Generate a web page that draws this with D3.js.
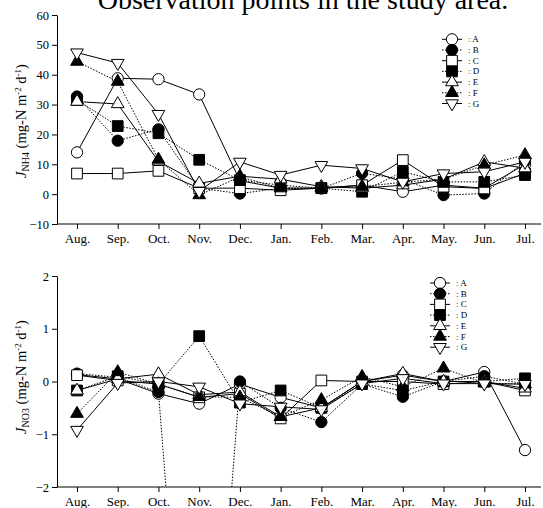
<!DOCTYPE html>
<html>
<head>
<meta charset="utf-8">
<script src="https://cdn.jsdelivr.net/npm/d3@7"></script>
<style>
  body { margin: 0; background: #fff; }
  svg, svg text { font-family: "Liberation Serif", "Times New Roman", serif; }
</style>
</head>
<body>
<div id="chart"></div>
<script>
const WIDTH = 543;
const HEIGHT = 508;

const MONTHS = ["Aug.", "Sep.", "Oct.", "Nov.", "Dec.", "Jan.", "Feb.", "Mar.", "Apr.", "May.", "Jun.", "Jul."];
const SITES = ["A", "B", "C", "D", "E", "F", "G"];

// J_NH4 (top panel)
const NH4_A = [14, 38.8, 38.5, 33.4, 4.5, 2, 2, 3, 0.8, 3, 2, 10];
const NH4_B = [32.7, 17.9, 21.7, 2, 0.2, 2, 1.9, 7, 5, -0.3, 0.2, 11];
const NH4_C = [6.9, 6.9, 7.8, 2, 2, 1.3, 2, 3, 11.4, 2.5, 1.9, 7];
const NH4_D = [31.5, 22.8, 20.4, 11.5, 4.7, 3, 2, 0.8, 7.5, 4.1, 4.1, 6.4];
const NH4_E = [31, 30.2, 11, 3.6, 6, 5, 2.5, 2, 3, 5, 10.8, 8.7];
const NH4_F = [44.4, 37.7, 11.6, -0.3, 5.8, 2, 2, 2.5, 4, 5, 9.7, 13.1];
const NH4_G = [47.4, 43.9, 26.8, 1, 10.8, 6.4, 9.7, 8.6, 4.1, 6.9, 7.5, 10.8];

// J_NO3 (bottom panel)
const NO3_A = [0.13, 0.05, -0.23, -0.42, -0.05, -0.3, -0.5, 0, 0.12, 0, 0.18, -1.3];
const NO3_B = [0.15, 0.08, -0.2, -10, 0.0, -0.5, -0.77, -0.05, -0.29, 0, 0.1, -0.05];
const NO3_C = [0.12, 0.02, -0.05, -0.3, -0.23, -0.7, 0.02, 0, 0, -0.05, 0, -0.17];
const NO3_D = [-0.17, 0.1, -0.05, 0.86, -0.4, -0.17, -0.5, -0.05, -0.17, 0, 0, 0.06];
const NO3_E = [-0.17, 0.05, 0.14, -0.25, -0.2, -0.67, -0.5, 0, 0.15, 0, 0, -0.13];
const NO3_F = [-0.61, 0.18, -0.05, -0.29, -0.3, -0.67, -0.35, 0.09, -0.1, 0.25, -0.03, -0.05];
const NO3_G = [-0.92, -0.03, 0, -0.1, -0.42, -0.48, -0.53, -0.04, 0.06, -0.04, -0.04, -0.05];

const NH4_TICKS = [-10, 0, 10, 20, 30, 40, 50, 60];
const NO3_TICKS = [-2, -1, 0, 1, 2];

const SERIF = "'Liberation Serif', 'Times New Roman', serif";

// marker style per site: symbol, fill, dashed line
const STYLE = {
  A: {sym: "circle", fill: "#fff", dash: null},
  B: {sym: "circle", fill: "#000", dash: "1.5,1.5"},
  C: {sym: "square", fill: "#fff", dash: null},
  D: {sym: "square", fill: "#000", dash: "1.5,1.5"},
  E: {sym: "up", fill: "#fff", dash: null},
  F: {sym: "up", fill: "#000", dash: "1.5,1.5"},
  G: {sym: "down", fill: "#fff", dash: null}
};

function markerPath(sym) {
  if (sym == "circle") return d3.symbol(d3.symbolCircle, 100)();
  if (sym == "square") return d3.symbol(d3.symbolSquare, 115)();
  return d3.symbol(d3.symbolTriangle, 70)();
}

const svg = d3.select("#chart").append("svg")
  .attr("width", WIDTH)
  .attr("height", HEIGHT);

const X = d3.scalePoint().domain(MONTHS).range([77, 525]);

svg.append("text")
  .attr("x", 303)
  .attr("y", 9)
  .attr("text-anchor", "middle")
  .attr("font-size", "28px")
  .style("font-family", SERIF)
  .text("Observation points in the study area.");

function drawPanel(opts) {
  const Y = d3.scaleLinear().domain(opts.domain).range(opts.range);
  const g = svg.append("g").style("font-family", SERIF);
  const clipId = "clip-" + opts.key;

  svg.append("clipPath").attr("id", clipId)
    .append("rect")
      .attr("x", 57).attr("y", opts.range[1] - 10)
      .attr("width", WIDTH - 57).attr("height", opts.range[0] - opts.range[1] + 10);

  // axes
  const yAxis = g.append("g")
    .attr("transform", "translate(57,0)")
    .call(d3.axisLeft(Y).tickValues(opts.ticks).tickFormat(d3.format("d"))
      .tickSize(5).tickSizeOuter(0).tickPadding(3));
  yAxis.attr("font-family", null).style("font-family", SERIF);
  yAxis.selectAll("text").attr("font-size", "12.5px").style("font-family", SERIF).attr("fill", "#000");
  yAxis.selectAll("line, path").attr("stroke", "#000");

  const xAxis = g.append("g")
    .attr("transform", "translate(0," + opts.range[0] + ")")
    .call(d3.axisBottom(X).tickSize(5).tickPadding(5));
  xAxis.attr("font-family", null).style("font-family", SERIF);
  xAxis.select(".domain").remove();
  xAxis.append("line").attr("x1", 57).attr("x2", 541).attr("stroke", "#000");
  xAxis.selectAll("text").attr("font-size", "13px").style("font-family", SERIF).attr("fill", "#000");
  xAxis.selectAll("line").attr("stroke", "#000");

  // y label
  const lab = g.append("text")
    .attr("transform", "translate(" + 26 + "," + opts.labelY + ") rotate(-90)")
    .attr("text-anchor", "middle")
    .attr("font-size", "14.5px")
    .style("font-family", SERIF);
  lab.append("tspan").attr("font-style", "italic").text("J");
  lab.append("tspan").attr("font-size", "10px").attr("dy", 3).text(opts.sub);
  lab.append("tspan").attr("dy", -3).text(" (mg-N m");
  lab.append("tspan").attr("font-size", "9px").attr("dy", -5).text("-2");
  lab.append("tspan").attr("dy", 5).text(" d");
  lab.append("tspan").attr("font-size", "9px").attr("dy", -5).text("-1");
  lab.append("tspan").attr("dy", 5).text(")");

  const plot = g.append("g").attr("clip-path", "url(#" + clipId + ")");
  const line = d3.line().x((d, i) => X(MONTHS[i])).y(d => Y(d));

  SITES.forEach((s, k) => {
    const st = STYLE[s];
    plot.append("path")
      .datum(opts.series[k])
      .attr("d", line)
      .attr("fill", "none")
      .attr("stroke", "#000")
      .attr("stroke-width", 1)
      .attr("stroke-dasharray", st.dash);
  });

  SITES.forEach((s, k) => {
    const st = STYLE[s];
    plot.selectAll(".m" + s)
      .data(opts.series[k])
      .enter()
      .append("path")
        .attr("d", markerPath(st.sym))
        .attr("transform", (d, i) => "translate(" + X(MONTHS[i]) + "," + Y(d) + ")" + (st.sym == "down" ? " rotate(180)" : ""))
        .attr("fill", st.fill)
        .attr("stroke", "#000")
        .attr("stroke-width", 1);
  });

  // legend
  SITES.forEach((s, k) => {
    const st = STYLE[s];
    const ly = opts.legY + k * 10.7;
    g.append("line")
      .attr("x1", opts.legX - 10).attr("x2", opts.legX + 10)
      .attr("y1", ly).attr("y2", ly)
      .attr("stroke", "#000")
      .attr("stroke-dasharray", st.dash);
    g.append("path")
      .attr("d", markerPath(st.sym))
      .attr("transform", "translate(" + opts.legX + "," + ly + ")" + (st.sym == "down" ? " rotate(180)" : ""))
      .attr("fill", st.fill)
      .attr("stroke", "#000");
    g.append("text")
      .attr("x", opts.legX + 16)
      .attr("y", ly + 3)
      .attr("font-size", "9px")
      .style("font-family", SERIF)
      .text(": " + s);
  });
}

drawPanel({
  key: "nh4",
  domain: [-10, 60],
  range: [224, 15],
  ticks: NH4_TICKS,
  sub: "NH4",
  labelY: 121,
  series: [NH4_A, NH4_B, NH4_C, NH4_D, NH4_E, NH4_F, NH4_G],
  legX: 452,
  legY: 39.3
});

drawPanel({
  key: "no3",
  domain: [-2, 2],
  range: [487, 276],
  ticks: NO3_TICKS,
  sub: "NO3",
  labelY: 377,
  series: [NO3_A, NO3_B, NO3_C, NO3_D, NO3_E, NO3_F, NO3_G],
  legX: 440,
  legY: 283
});
</script>
</body>
</html>
